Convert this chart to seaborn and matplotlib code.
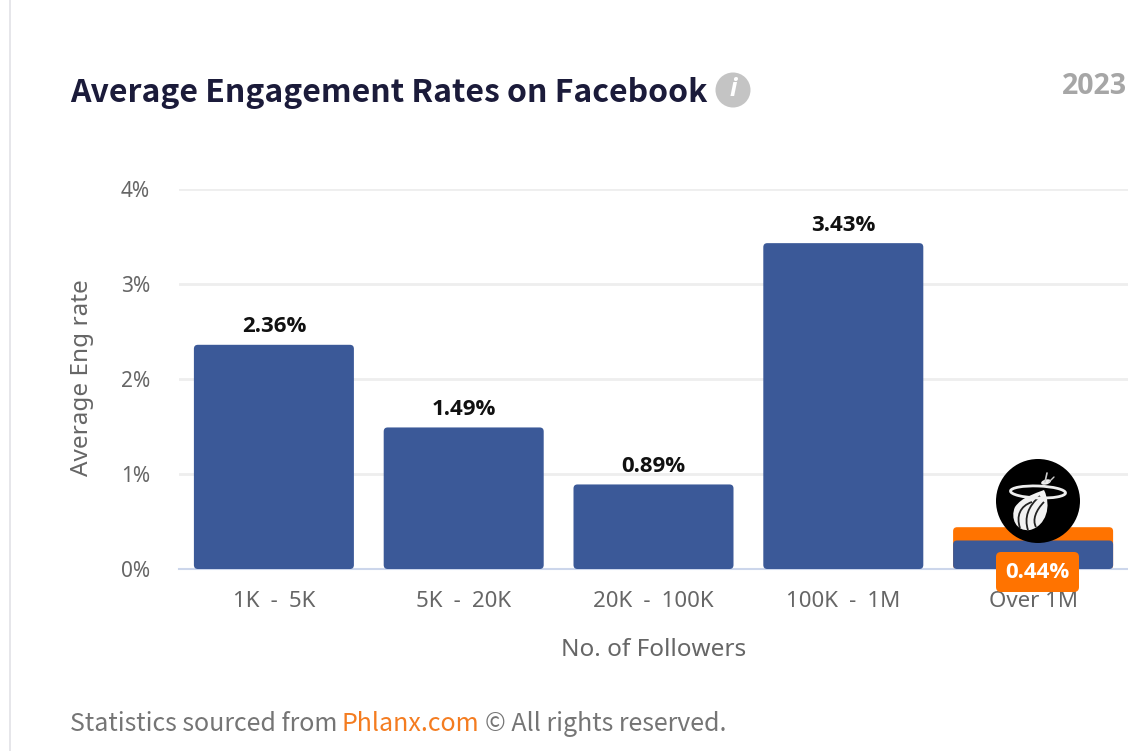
import matplotlib
matplotlib.use("Agg")
import matplotlib.pyplot as plt
from matplotlib.patches import Circle, Ellipse, FancyBboxPatch, PathPatch, Rectangle
from matplotlib.path import Path
import pandas as pd
import seaborn as sns

# Engagement data by follower bracket
categories = ["1K - 5K", "5K - 20K", "20K - 100K", "100K - 1M", "Over 1M"]
average_rates = [2.36, 1.49, 0.89, 3.43, 0.30]
team_rates = [0, 0, 0, 0, 0.44]
value_labels = ["2.36%", "1.49%", "0.89%", "3.43%", None]
y_ticks = [0, 1, 2, 3, 4]
y_tick_labels = ["0%", "1%", "2%", "3%", "4%"]

BLUE = "#3b5998"
ORANGE = "#ff7300"
BODY_FONT = "Noto Sans"
HEAD_FONT = "Noto Sans CJK JP"
VALUE_FONT = "Open Sans"

W, H = 1128, 751
sns.set_theme(style="white")
plt.rcParams["font.family"] = [BODY_FONT, "DejaVu Sans"]

fig = plt.figure(figsize=(W / 100, H / 100), dpi=100, facecolor="white")
ax = fig.add_axes([179 / W, 1 - 569 / H, 949 / W, 380 / H])

df = pd.DataFrame({"bracket": categories, "average": average_rates, "team": team_rates})
sns.barplot(data=df, x="bracket", y="team", color=ORANGE, saturation=1, width=0.843, ax=ax, zorder=2)
n_team = len(ax.patches)
sns.barplot(data=df, x="bracket", y="average", color=BLUE, saturation=1, width=0.843, ax=ax, zorder=3)

ax.set_ylim(0, 4)
ax.set_xlim(-0.5, len(categories) - 0.5)


def round_bar(bar, z):
    """Swap a square bar for one with softly rounded corners."""
    x, w, h = bar.get_x(), bar.get_width(), bar.get_height()
    bar.set_visible(False)
    if h <= 0:
        return
    # Corner radius in x data units; the aspect compensates for the axis scales
    px_x = 949 / len(categories)
    px_y = 95.0
    r = 4 / px_x
    ry = r * px_x / px_y
    patch = FancyBboxPatch(
        (x + r, ry), w - 2 * r, h - 2 * ry,
        boxstyle=f"round,pad={r},rounding_size={r}",
        mutation_aspect=px_x / px_y,
        facecolor=bar.get_facecolor(), edgecolor="none", zorder=z, clip_on=False,
    )
    ax.add_patch(patch)


for i, bar in enumerate(list(ax.patches)):
    round_bar(bar, 2 if i < n_team else 3)

for i, text in enumerate(value_labels):
    if text:
        ax.text(i, average_rates[i] + 0.19, text, ha="center", va="center", family=VALUE_FONT,
                fontsize=16, fontweight="bold", color="#111111", zorder=5)

ax.set_yticks(y_ticks, y_tick_labels)
ax.set_xticks(range(len(categories)), [c.replace(" - ", "\u2002-\u2002") for c in categories])
ax.tick_params(axis="y", length=0, pad=21, labelsize=15, labelcolor="#666666")
ax.tick_params(axis="x", length=0, pad=15.5, labelsize=16, labelcolor="#666666")
ax.grid(axis="y", color="#eeeeee", linewidth=2)
ax.set_axisbelow(True)
for side in ["top", "right", "left"]:
    ax.spines[side].set_visible(False)
ax.spines["bottom"].set_color("#ccd6eb")
ax.spines["bottom"].set_linewidth(1.5)
ax.set_xlabel("No. of Followers", fontsize=17.5, color="#666666", labelpad=19)
ax.set_ylabel("")

# Page furniture, the badge and the crest are placed in pixel coordinates
ov = fig.add_axes([0, 0, 1, 1], zorder=10)
ov.set_xlim(0, W)
ov.set_ylim(H, 0)
ov.axis("off")
ov.patch.set_alpha(0)

ov.add_patch(Rectangle((9, 0), 1.5, H, facecolor="#e6e6ea", edgecolor="none"))
ov.text(70, 93, "Average Engagement Rates on Facebook", family=HEAD_FONT, fontsize=23, fontweight="bold",
        color="#1b1b3a", va="center", ha="left")
ov.add_patch(Circle((733, 90), 17.5, facecolor="#c4c4c4", edgecolor="none"))
ov.text(733, 90, "i", family=VALUE_FONT, fontsize=18, fontweight="bold", style="italic", color="white",
        ha="center", va="center")
ov.text(1127, 86, "2023", family=VALUE_FONT, fontsize=20.5, fontweight="bold", color="#a6a6a6",
        ha="right", va="center")
ov.text(82, 378, "Average Eng rate", fontsize=17.5, color="#666666", rotation=90,
        ha="center", va="center")

ov.text(70, 724, "Statistics sourced from", family=HEAD_FONT, fontsize=18, color="#757575", va="center")
ov.text(342, 724, "Phlanx.com", family=HEAD_FONT, fontsize=18, color="#f47c20", va="center")
ov.text(485, 724, "© All rights reserved.", family=HEAD_FONT, fontsize=18, color="#757575", va="center")

# Value badge for the highlighted bar
ov.add_patch(FancyBboxPatch((1000, 556), 75, 32, boxstyle="round,pad=4,rounding_size=5",
                            facecolor=ORANGE, edgecolor="none"))
ov.text(1037, 572, "0.44%", family=VALUE_FONT, fontsize=16, fontweight="bold", color="white",
        ha="center", va="center")

# Team crest: black disc, flaming ball and ring
ov.add_patch(Circle((1038, 501), 42, facecolor="black", edgecolor="none"))
ball = Path(
    [(1044, 490), (1052, 506), (1046, 526), (1030, 530), (1016, 532), (1010, 518),
     (1015, 507), (1022, 497), (1034, 494), (1044, 490), (1044, 490)],
    [Path.MOVETO, Path.CURVE4, Path.CURVE4, Path.CURVE4, Path.CURVE4, Path.CURVE4,
     Path.CURVE4, Path.CURVE4, Path.CURVE4, Path.CURVE4, Path.CLOSEPOLY],
)
ov.add_patch(PathPatch(ball, facecolor="#f2f2f2", edgecolor="none"))
for verts in (
    [(1040, 496), (1028, 506), (1024, 518), (1028, 530)],
    [(1044, 502), (1036, 510), (1032, 520), (1036, 527)],
    [(1032, 502), (1020, 506), (1016, 516), (1020, 528)],
):
    ov.add_patch(PathPatch(Path(verts, [Path.MOVETO, Path.CURVE4, Path.CURVE4, Path.CURVE4]),
                           facecolor="none", edgecolor="#222222", linewidth=1.3))
ov.add_patch(Ellipse((1038, 492), 55, 12, angle=2, facecolor="none", edgecolor="#eeeeee", linewidth=2))
ov.add_patch(Ellipse((1046, 482), 10, 5, angle=-15, facecolor="#eeeeee", edgecolor="none"))
ov.plot([1045, 1047], [482, 473], color="#cccccc", linewidth=1.2)
ov.plot([1049, 1054], [482, 477], color="#cccccc", linewidth=1.0)

fig.savefig("out.png", dpi=100, facecolor="white")
